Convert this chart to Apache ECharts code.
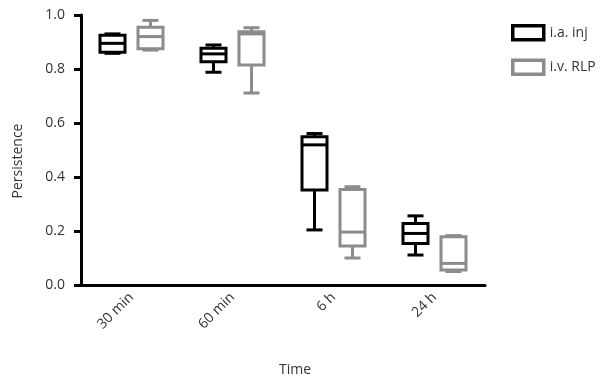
<!DOCTYPE html>
<html>
<head>
<meta charset="utf-8">
<script src="https://cdn.jsdelivr.net/npm/echarts@6/dist/echarts.min.js"></script>
<style>html,body{margin:0;padding:0;background:#fff}#c{width:608px;height:381px}</style>
</head>
<body>
<div id="c"></div>
<script>
var categories = ['30 min', '60 min', '6 h', '24 h'];
var seriesNames = ['i.a. inj', 'i.v. RLP'];
// [min, Q1, median, Q3, max]
var iaInj = [
  [0.858, 0.862, 0.895, 0.925, 0.930],
  [0.788, 0.827, 0.856, 0.877, 0.889],
  [0.204, 0.352, 0.519, 0.549, 0.561],
  [0.111, 0.154, 0.191, 0.228, 0.256]
];
var ivRLP = [
  [0.870, 0.875, 0.920, 0.955, 0.980],
  [0.711, 0.815, 0.930, 0.938, 0.953],
  [0.100, 0.144, 0.196, 0.354, 0.364],
  [0.050, 0.056, 0.080, 0.179, 0.183]
];
var yTicks = [0, 0.2, 0.4, 0.6, 0.8, 1.0];

var FONT = 'Open Sans';
var TXT = '#333333';
var BLACK = '#000000';
var GRAY = '#8c8c8c';
var BOX_W = 25, CAP_W = 16, LW = 3;

function boxRenderer(offset, color) {
  return function (params, api) {
    var i = api.value(0);
    var pMin = api.coord([i, api.value(1)]);
    var pQ1 = api.coord([i, api.value(2)]);
    var pMed = api.coord([i, api.value(3)]);
    var pQ3 = api.coord([i, api.value(4)]);
    var pMax = api.coord([i, api.value(5)]);
    var cx = pMin[0] + offset;
    var st = {stroke: color, lineWidth: LW, fill: null, lineCap: 'butt'};
    var hw = BOX_W / 2, hc = CAP_W / 2;
    return {
      type: 'group',
      children: [
        {type: 'line', shape: {x1: cx, y1: pMax[1], x2: cx, y2: pQ3[1]}, style: st},
        {type: 'line', shape: {x1: cx, y1: pQ1[1], x2: cx, y2: pMin[1]}, style: st},
        {type: 'line', shape: {x1: cx - hc, y1: pMax[1], x2: cx + hc, y2: pMax[1]}, style: st},
        {type: 'line', shape: {x1: cx - hc, y1: pMin[1], x2: cx + hc, y2: pMin[1]}, style: st},
        {type: 'rect', shape: {x: cx - hw, y: pQ3[1], width: BOX_W, height: pQ1[1] - pQ3[1]},
          style: {stroke: color, lineWidth: LW, fill: '#fff'}},
        {type: 'line', shape: {x1: cx - hw, y1: pMed[1], x2: cx + hw, y2: pMed[1]}, style: st}
      ]
    };
  };
}
function toRows(arr) {
  return arr.map(function (d, i) { return [i].concat(d); });
}

var chart = echarts.init(document.getElementById('c'), null, {renderer: 'canvas'});
chart.setOption({
  animation: false,
  backgroundColor: '#fff',
  textStyle: {fontFamily: FONT},
  title: {
    text: 'Time', left: 290, top: 358, textAlign: 'center',
    textStyle: {fontFamily: FONT, fontSize: 14, fontWeight: 'normal', color: TXT}
  },
  legend: {
    orient: 'vertical', left: 506, top: 19, itemGap: 17,
    itemWidth: 31, itemHeight: 14, icon: 'rect',
    data: [
      {name: seriesNames[0], itemStyle: {color: '#fff', borderColor: BLACK, borderWidth: 3.5}},
      {name: seriesNames[1], itemStyle: {color: '#fff', borderColor: GRAY, borderWidth: 3.5}}
    ],
    textStyle: {fontFamily: FONT, fontSize: 14, color: TXT, padding: [0, 0, 0, 1]}
  },
  grid: {left: 81, right: 123, top: 15, bottom: 96},
  xAxis: {
    type: 'category', data: categories,
    axisLine: {lineStyle: {color: BLACK, width: 3}},
    axisTick: {alignWithLabel: true, length: 7, lineStyle: {color: BLACK, width: 3}},
    axisLabel: {rotate: 45, margin: 10, fontSize: 14, color: TXT, fontFamily: FONT},
    splitLine: {show: false}
  },
  yAxis: {
    type: 'value', min: yTicks[0], max: yTicks[yTicks.length - 1], interval: 0.2,
    name: 'Persistence', nameLocation: 'middle', nameGap: 56,
    nameTextStyle: {fontSize: 14, color: TXT, fontFamily: FONT, padding: [0, 22, 0, 0]},
    axisLine: {show: true, lineStyle: {color: BLACK, width: 3}},
    axisTick: {show: true, length: 7, lineStyle: {color: BLACK, width: 3}},
    axisLabel: {margin: 16, fontSize: 14, color: TXT, fontFamily: FONT,
      formatter: function (v) { return v.toFixed(1); }},
    splitLine: {show: false}
  },
  series: [
    {
      name: seriesNames[0], type: 'custom', renderItem: boxRenderer(-19, BLACK),
      encode: {x: 0, y: [1, 2, 3, 4, 5]},
      itemStyle: {color: BLACK},
      data: toRows(iaInj), clip: false
    },
    {
      name: seriesNames[1], type: 'custom', renderItem: boxRenderer(19, GRAY),
      encode: {x: 0, y: [1, 2, 3, 4, 5]},
      itemStyle: {color: GRAY},
      data: toRows(ivRLP), clip: false
    }
  ]
});
</script>
</body>
</html>
